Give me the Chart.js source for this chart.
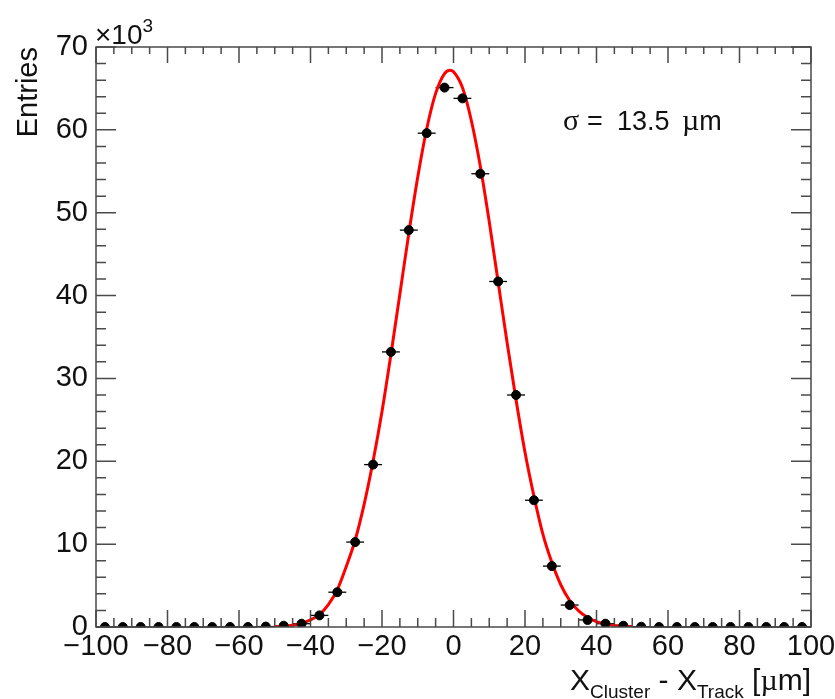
<!DOCTYPE html>
<html>
<head>
<meta charset="utf-8">
<script src="https://cdn.jsdelivr.net/npm/chart.js@4.4.1/dist/chart.umd.min.js"></script>
<style>
  html, body { margin: 0; padding: 0; background: #fff; }
  #wrap { width: 835px; height: 699px; }
</style>
</head>
<body>
<div id="wrap"><canvas id="resid" width="835" height="699"></canvas></div>
<script>
// bin centres of the residual histogram (um)
const binCenters = [
  -97.5, -92.5, -87.5, -82.5, -77.5, -72.5, -67.5, -62.5, -57.5, -52.5,
  -47.5, -42.5, -37.5, -32.5, -27.5, -22.5, -17.5, -12.5, -7.5, -2.5,
  2.5, 7.5, 12.5, 17.5, 22.5, 27.5, 32.5, 37.5, 42.5, 47.5,
  52.5, 57.5, 62.5, 67.5, 72.5, 77.5, 82.5, 87.5, 92.5, 97.5
];
// entries per bin, in units of 10^3
const entries = [
  0, 0, 0, 0, 0, 0, 0, 0, 0, 0.05,
  0.15, 0.4, 1.4, 4.2, 10.25, 19.6, 33.2, 47.9, 59.6, 65.1,
  63.8, 54.7, 41.7, 28.0, 15.3, 7.35, 2.65, 0.85, 0.4, 0.15,
  0.03, 0, 0, 0, 0, 0, 0, 0, 0, 0
];
const binWidth = 5;

// gaussian fit curve
const fitX = [
  -50, -47.5, -45, -42.5, -40, -37.5, -35, -32.5, -30, -27.5,
  -25, -22.5, -20, -17.5, -15, -12.5, -10, -7.5, -5, -2.5,
  -1, 0, 2.5, 5, 7.5, 10, 12.5, 15, 17.5, 20,
  22.5, 25, 27.5, 30, 32.5, 35, 37.5, 40, 42.5, 45,
  47.5, 50
];
const fitY = [
  0.04, 0.1, 0.22, 0.45, 0.85, 1.5, 2.7, 4.5, 7.3, 10.5,
  14.8, 20.0, 26.0, 32.9, 40.2, 47.5, 54.3, 60.1, 64.4, 66.8,
  67.2, 67.0, 65.1, 61.1, 55.6, 48.9, 41.6, 34.3, 27.4, 21.1,
  15.8, 11.2, 7.8, 5.1, 3.2, 1.95, 1.15, 0.65, 0.35, 0.18,
  0.09, 0.04
];

const xTicks = [-100, -80, -60, -40, -20, 0, 20, 40, 60, 80, 100];
const yTicks = [0, 10, 20, 30, 40, 50, 60, 70];

const sans = "'Liberation Sans', Arial, Helvetica, sans-serif";
const serif = "'Liberation Serif', 'Times New Roman', serif";

// horizontal bin-width error bars
const errorBars = {
  id: "errorBars",
  beforeDatasetsDraw(chart) {
    const ctx = chart.ctx;
    const xs = chart.scales.x, ys = chart.scales.y;
    ctx.save();
    ctx.strokeStyle = "#000";
    ctx.lineWidth = 1.3;
    binCenters.forEach((c, i) => {
      const py = ys.getPixelForValue(entries[i]);
      ctx.beginPath();
      ctx.moveTo(xs.getPixelForValue(c - binWidth / 2), py);
      ctx.lineTo(xs.getPixelForValue(c + binWidth / 2), py);
      ctx.stroke();
    });
    ctx.restore();
  }
};

// ROOT-like frame with ticks on all four sides, plus texts
const rootFrame = {
  id: "rootFrame",
  afterDraw(chart) {
    const ctx = chart.ctx;
    const a = chart.chartArea;
    const xs = chart.scales.x, ys = chart.scales.y;
    ctx.save();
    ctx.strokeStyle = "#4a4a4a";
    ctx.lineWidth = 1.5;
    ctx.strokeRect(a.left, a.top, a.right - a.left, a.bottom - a.top);

    ctx.beginPath();
    for (let v = -100; v <= 100; v += 5) {
      const px = xs.getPixelForValue(v);
      const major = v % 20 === 0;
      ctx.moveTo(px, a.bottom); ctx.lineTo(px, a.bottom - (major ? 17 : 9));
      ctx.moveTo(px, a.top); ctx.lineTo(px, a.top + (major ? 16 : 7));
    }
    for (let v = 0; v <= 70; v += 2) {
      const py = ys.getPixelForValue(v);
      const len = v % 10 === 0 ? 20 : 10;
      ctx.moveTo(a.left, py); ctx.lineTo(a.left + len, py);
      ctx.moveTo(a.right, py); ctx.lineTo(a.right - len, py);
    }
    ctx.stroke();

    ctx.fillStyle = "#111";
    ctx.textBaseline = "alphabetic";

    // x10^3 multiplier
    ctx.textAlign = "left";
    ctx.font = "28px " + sans;
    ctx.fillText("\u00d710", 95, 44);
    const w10 = ctx.measureText("\u00d710").width;
    ctx.font = "19px " + sans;
    ctx.fillText("3", 95 + w10, 32);

    // y title
    ctx.save();
    ctx.translate(37, a.top);
    ctx.rotate(-Math.PI / 2);
    ctx.textAlign = "right";
    ctx.font = "29px " + sans;
    ctx.fillText("Entries", 0, 0);
    ctx.restore();

    // x title, right aligned to the frame
    const parts = [
      { t: "X", f: "30px " + sans, dy: 0 },
      { t: "Cluster", f: "19px " + sans, dy: 8 },
      { t: " - X", f: "30px " + sans, dy: 0 },
      { t: "Track", f: "19px " + sans, dy: 8 },
      { t: " [", f: "30px " + sans, dy: 0 },
      { t: "\u00b5", f: "30px " + serif, dy: 0 },
      { t: "m]", f: "30px " + sans, dy: 0 }
    ];
    let total = 0;
    parts.forEach(p => { ctx.font = p.f; p.w = ctx.measureText(p.t).width; total += p.w; });
    let x = a.right - total;
    ctx.textAlign = "left";
    parts.forEach(p => { ctx.font = p.f; ctx.fillText(p.t, x, 690 + p.dy); x += p.w; });

    // sigma annotation
    ctx.font = "30px " + serif;
    ctx.fillText("\u03c3", 563, 130);
    ctx.font = "27px " + sans;
    ctx.fillText("=", 587, 130);
    ctx.fillText("13.5", 617, 130);
    ctx.font = "30px " + serif;
    ctx.fillText("\u00b5", 682, 130);
    const wMu = ctx.measureText("\u00b5").width;
    ctx.font = "27px " + sans;
    ctx.fillText("m", 682 + wMu, 130);
    ctx.restore();
  }
};

new Chart(document.getElementById("resid"), {
  type: "scatter",
  data: {
    datasets: [
      {
        label: "fit",
        data: fitX.map((v, i) => ({ x: v, y: fitY[i] })),
        showLine: true,
        borderColor: "#ff0000",
        borderWidth: 3,
        pointRadius: 0,
        cubicInterpolationMode: "monotone",
        order: 2
      },
      {
        label: "data",
        data: binCenters.map((v, i) => ({ x: v, y: entries[i] })),
        backgroundColor: "#000",
        borderColor: "#000",
        pointRadius: 4.5,
        order: 1
      }
    ]
  },
  options: {
    responsive: false,
    animation: false,
    events: [],
    layout: { padding: { top: 47, right: 24, left: 0, bottom: 0 } },
    plugins: { legend: { display: false }, tooltip: { enabled: false } },
    scales: {
      x: {
        type: "linear",
        min: -100,
        max: 100,
        afterFit: s => { s.height = 72; s.paddingRight = 0; s.paddingLeft = 0; },
        afterBuildTicks: s => { s.ticks = xTicks.map(v => ({ value: v })); },
        grid: { display: false, drawTicks: false },
        border: { display: false },
        ticks: {
          padding: 3,
          color: "#111",
          font: { family: sans, size: 29 },
          maxRotation: 0,
          autoSkip: false,
          callback: v => String(v).replace("-", "\u2212")
        }
      },
      y: {
        min: 0,
        max: 70,
        afterFit: s => { s.width = 96; },
        afterBuildTicks: s => { s.ticks = yTicks.map(v => ({ value: v })); },
        grid: { display: false, drawTicks: false },
        border: { display: false },
        ticks: {
          padding: 8,
          color: "#111",
          font: { family: sans, size: 29 },
          autoSkip: false
        }
      }
    }
  },
  plugins: [errorBars, rootFrame]
});
</script>
</body>
</html>
